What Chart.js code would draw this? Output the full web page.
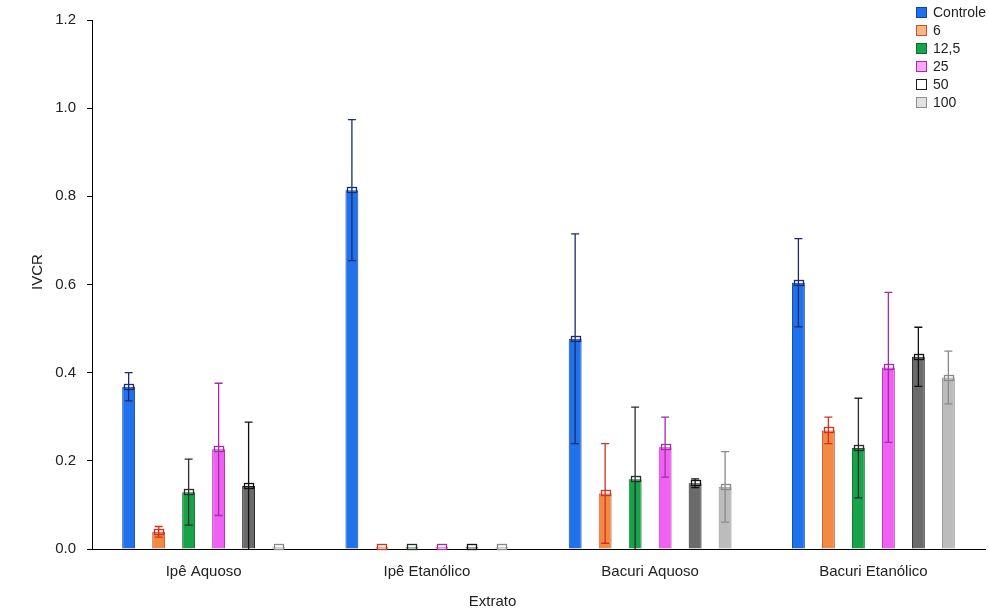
<!DOCTYPE html>
<html>
<head>
<meta charset="utf-8">
<script src="https://cdn.jsdelivr.net/npm/chart.js@4"></script>
<style>
  html, body { margin: 0; padding: 0; background: #fff; }
  #wrap { width: 989px; height: 613px; }
</style>
</head>
<body>
<div id="wrap"><canvas id="c" width="989" height="613"></canvas></div>
<script>
// Extract types on the x axis
const categories = ['Ipê Aquoso', 'Ipê Etanólico', 'Bacuri Aquoso', 'Bacuri Etanólico'];
// Concentration groups
const seriesNames = ['Controle', '6', '12,5', '25', '50', '100'];

// Mean IVCR per concentration
const controle = [0.368, 0.814, 0.477, 0.604];
const c6       = [0.039, 0.004, 0.126, 0.269];
const c12      = [0.129, 0.004, 0.158, 0.229];
const c25      = [0.226, 0.004, 0.231, 0.412];
const c50      = [0.143, 0.004, 0.149, 0.436];
const c100     = [0.004, 0.004, 0.141, 0.389];

// Error half-widths
const errControle = [0.032, 0.160, 0.238, 0.100];
const err6        = [0.012, 0.000, 0.113, 0.030];
const err12       = [0.075, 0.000, 0.164, 0.113];
const err25       = [0.150, 0.000, 0.068, 0.170];
const err50       = [0.145, 0.000, 0.010, 0.067];
const err100      = [0.000, 0.000, 0.080, 0.060];

const yTicks = [0.0, 0.2, 0.4, 0.6, 0.8, 1.0, 1.2];

const values = [controle, c6, c12, c25, c50, c100];
const errors = [errControle, err6, err12, err25, err50, err100];

const fills   = ['#1f72ec', '#f28a44', '#16a34a', '#f060f2', '#6b6b6b', '#bcbcbc'];
const borders = ['#17409c', '#c4532a', '#0d6a2c', '#b126b4', '#1e1e1e', '#8d8d8d'];
const whisk   = ['#1d2b6e', '#d2301f', '#2c2c2c', '#a12ea6', '#111111', '#8a8a8a'];
const legFill = ['#1f72ec', '#f7b58a', '#16a34a', '#f7a8f7', '#ffffff', '#e2e2e2'];

const FONT = '"Liberation Sans", Arial, sans-serif';

const datasets = seriesNames.map((name, i) => ({
  label: name,
  data: values[i],
  backgroundColor: fills[i],
  borderColor: borders[i],
  borderWidth: 1,
  categoryPercentage: 0.806,
  barPercentage: 0.43
}));

// Whiskers and mean boxes drawn on top of each bar
const errorBars = {
  id: 'errorBars',
  afterDatasetsDraw(chart) {
    const ctx = chart.ctx;
    const y = chart.scales.y;
    ctx.save();
    chart.data.datasets.forEach((ds, i) => {
      const meta = chart.getDatasetMeta(i);
      meta.data.forEach((bar, j) => {
        const v = values[i][j];
        const e = errors[i][j];
        const x = bar.x;
        const yM = y.getPixelForValue(v);
        ctx.strokeStyle = whisk[i];
        ctx.lineWidth = 1.3;
        if (e > 0) {
          const yT = y.getPixelForValue(v + e);
          const yB = y.getPixelForValue(Math.max(0, v - e));
          ctx.beginPath();
          ctx.moveTo(x, yT); ctx.lineTo(x, yB);
          ctx.moveTo(x - 4, yT); ctx.lineTo(x + 4, yT);
          if (v - e > 0) { ctx.moveTo(x - 4, yB); ctx.lineTo(x + 4, yB); }
          ctx.stroke();
        }
        ctx.strokeRect(Math.round(x - 4.5) + 0.5, Math.round(yM - 3) + 0.5, 9, 5);
      });
    });
    ctx.restore();
  }
};

// Legend list in the upper right corner, plus the y-axis title
const annotations = {
  id: 'annotations',
  afterDraw(chart) {
    const ctx = chart.ctx;
    ctx.save();
    ctx.font = '14px ' + FONT;
    ctx.textBaseline = 'middle';
    seriesNames.forEach((name, i) => {
      const yy = 13 + i * 18;
      ctx.fillStyle = legFill[i];
      ctx.fillRect(916.5, yy - 5.5, 10, 10);
      ctx.strokeStyle = borders[i];
      ctx.lineWidth = 1;
      ctx.strokeRect(916.5, yy - 5.5, 10, 10);
      ctx.fillStyle = '#222';
      ctx.fillText(name, 933, yy);
    });
    ctx.font = '15px ' + FONT;
    ctx.textAlign = 'center';
    ctx.translate(38, 272);
    ctx.rotate(-Math.PI / 2);
    ctx.fillText('IVCR', 0, 0);
    ctx.restore();
  }
};

new Chart(document.getElementById('c'), {
  type: 'bar',
  data: { labels: categories, datasets },
  options: {
    responsive: false,
    animation: false,
    layout: { padding: { top: 18, right: 4, left: 0, bottom: 0 } },
    plugins: {
      legend: { display: false },
      tooltip: { enabled: false },
      title: {
        display: true,
        position: 'bottom',
        text: 'Extrato',
        color: '#222',
        font: { family: FONT, size: 15, weight: 'normal' },
        padding: { top: 6, bottom: 2 }
      }
    },
    scales: {
      x: {
        grid: { display: false, drawTicks: false },
        border: { display: true, color: '#000', width: 1 },
        ticks: {
          color: '#222',
          padding: 14,
          font: { family: FONT, size: 15 }
        },
        afterFit(s) { s.height = 38; }
      },
      y: {
        min: 0,
        max: 1.2,
        afterBuildTicks(s) { s.ticks = yTicks.map(v => ({ value: v })); },
        grid: { drawOnChartArea: false, drawTicks: true, tickLength: 5, color: '#000' },
        border: { display: true, color: '#000', width: 1 },
        ticks: {
          color: '#222',
          padding: 11,
          font: { family: FONT, size: 15 },
          callback: v => Number(v).toFixed(1)
        },
        afterFit(s) { s.width = 92; }
      }
    }
  },
  plugins: [errorBars, annotations]
});
</script>
</body>
</html>
